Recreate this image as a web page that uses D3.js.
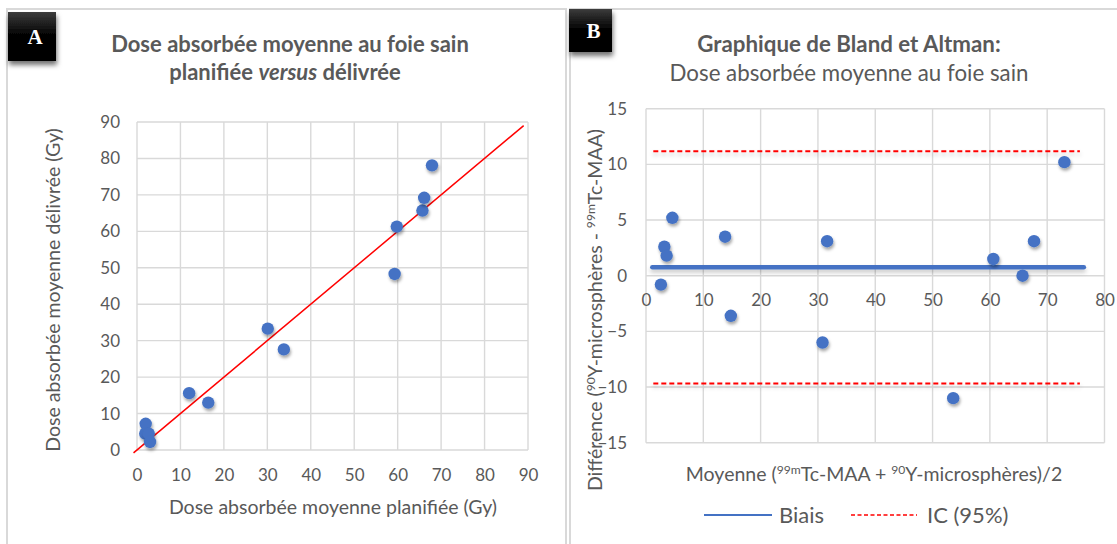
<!DOCTYPE html>
<html>
<head>
<meta charset="utf-8">
<script src="https://cdn.jsdelivr.net/npm/d3@7"></script>
<style>
  body { margin: 0; background: #fff; }
  text { font-family: Lato, "Open Sans", sans-serif; fill: #595959; }
</style>
</head>
<body>
<svg id="chart" width="1117" height="544"></svg>
<script>
// Panel A: planned vs delivered mean absorbed dose to healthy liver (Gy)
const planned   = [2.0, 1.9, 2.7, 3.0, 12.0, 16.4, 30.1, 33.8, 59.3, 59.8, 65.7, 66.1, 67.9];
const delivered = [7.2, 4.5, 4.5, 2.2, 15.6, 13.0, 33.3, 27.6, 48.3, 61.3, 65.7, 69.2, 78.1];
const identityEnds = [-0.8, 89];
const ticksA = [0, 10, 20, 30, 40, 50, 60, 70, 80, 90];

// Panel B: Bland-Altman (mean of both methods, difference 90Y - 99mTc)
const blandMean = [4.6, 3.2, 3.6, 2.6, 13.8, 14.8, 31.6, 30.8, 53.6, 60.6, 65.7, 67.7, 73.0];
const blandDiff = [5.2, 2.6, 1.8, -0.8, 3.5, -3.6, 3.1, -6.0, -11.0, 1.5, 0.0, 3.1, 10.2];
const bias = 0.75;
const icUpper = 11.17;
const icLower = -9.68;
const limitSpan = [1.1, 76.4];
const ticksBx = [0, 10, 20, 30, 40, 50, 60, 70, 80];
const ticksBy = [-15, -10, -5, 0, 5, 10, 15];

const BLUE = "#4472C4", RED = "#FF0000", GRID = "#d9d9d9";

const svg = d3.select("#chart");
svg.append("rect").attr("width", 1117).attr("height", 544).attr("fill", "#fff");

const defs = svg.append("defs");
const sh = defs.append("filter").attr("id", "shadow")
  .attr("x", "-50%").attr("y", "-50%").attr("width", "200%").attr("height", "200%");
sh.append("feDropShadow").attr("dx", 1).attr("dy", 2.5).attr("stdDeviation", 1.6)
  .attr("flood-color", "#000").attr("flood-opacity", 0.35);
// horizontal lines have a zero-height bbox, so this filter uses user space
const lsh = defs.append("filter").attr("id", "lineShadow")
  .attr("filterUnits", "userSpaceOnUse")
  .attr("x", 0).attr("y", 0).attr("width", 1117).attr("height", 544);
lsh.append("feDropShadow").attr("dx", 0).attr("dy", 3).attr("stdDeviation", 2)
  .attr("flood-color", "#000").attr("flood-opacity", 0.22);
const bsh = defs.append("filter").attr("id", "boxShadow")
  .attr("x", "-30%").attr("y", "-30%").attr("width", "170%").attr("height", "170%");
bsh.append("feDropShadow").attr("dx", 1).attr("dy", 4).attr("stdDeviation", 2.5)
  .attr("flood-color", "#000").attr("flood-opacity", 0.55);
const grad = defs.append("linearGradient").attr("id", "boxGrad")
  .attr("x1", 0).attr("y1", 0).attr("x2", 0).attr("y2", 1);
grad.append("stop").attr("offset", "0%").attr("stop-color", "#3c3c3c");
grad.append("stop").attr("offset", "45%").attr("stop-color", "#050505");
grad.append("stop").attr("offset", "100%").attr("stop-color", "#000");

// Panel frames
svg.append("rect").attr("x", 7).attr("y", 9).attr("width", 559).attr("height", 600)
  .attr("fill", "#fff").attr("stroke", GRID).attr("stroke-width", 2);
svg.append("rect").attr("x", 570).attr("y", 9).attr("width", 600).attr("height", 600)
  .attr("fill", "#fff").attr("stroke", GRID).attr("stroke-width", 2);

function panelLetter(x, y, w, h, letter) {
  svg.append("rect").attr("x", x).attr("y", y).attr("width", w).attr("height", h)
    .attr("fill", "url(#boxGrad)").attr("filter", "url(#boxShadow)");
  svg.append("text").attr("x", x + w / 2 + 3).attr("y", y + h / 2 + 7)
    .attr("text-anchor", "middle")
    .style("font-family", "'Liberation Serif', 'DejaVu Serif', serif")
    .style("font-weight", "bold").style("font-size", "21px").style("fill", "#fff")
    .text(letter);
}

function grid(xs, ys, xTicks, yTicks) {
  const g = svg.append("g").attr("stroke", GRID).attr("stroke-width", 1.4);
  const [y0, y1] = ys.range();
  const [x0, x1] = xs.range();
  g.selectAll("line.v").data(xTicks).join("line").attr("class", "v")
    .attr("x1", d => xs(d)).attr("x2", d => xs(d)).attr("y1", y0).attr("y2", y1);
  g.selectAll("line.h").data(yTicks).join("line").attr("class", "h")
    .attr("y1", d => ys(d)).attr("y2", d => ys(d)).attr("x1", x0).attr("x2", x1);
}

function styleAxis(g) {
  g.select(".domain").remove();
  g.selectAll("text").style("font-size", "17px").style("fill", "#595959")
    .style("font-family", "Lato, 'Open Sans', sans-serif");
}

// ---------- Panel A ----------
const xA = d3.scaleLinear().domain([0, 90]).range([137, 528]);
const yA = d3.scaleLinear().domain([0, 90]).range([450, 122]);

grid(xA, yA, ticksA, ticksA);

svg.append("g").attr("transform", "translate(0,450)")
  .call(d3.axisBottom(xA).tickValues(ticksA).tickSize(0).tickPadding(19))
  .call(styleAxis);
svg.append("g").attr("transform", "translate(137,0)")
  .call(d3.axisLeft(yA).tickValues(ticksA).tickSize(0).tickPadding(17))
  .call(styleAxis);

svg.append("line")
  .attr("x1", xA(identityEnds[0])).attr("y1", yA(identityEnds[0]))
  .attr("x2", xA(identityEnds[1])).attr("y2", yA(identityEnds[1]))
  .attr("stroke", RED).attr("stroke-width", 1.5);

svg.append("g").selectAll("circle").data(planned).join("circle")
  .attr("cx", d => xA(d)).attr("cy", (d, i) => yA(delivered[i]))
  .attr("r", 6.2).attr("fill", BLUE).attr("filter", "url(#shadow)");

svg.append("text").attr("x", 290).attr("y", 52).attr("text-anchor", "middle")
  .style("font-size", "22px").style("font-weight", "bold")
  .text("Dose absorbée moyenne au foie sain");
const tA2 = svg.append("text").attr("x", 285).attr("y", 80).attr("text-anchor", "middle")
  .style("font-size", "22px").style("font-weight", "bold");
tA2.append("tspan").text("planifiée ");
tA2.append("tspan").style("font-style", "italic").text("versus");
tA2.append("tspan").text(" délivrée");

svg.append("text").attr("x", 333).attr("y", 514).attr("text-anchor", "middle")
  .style("font-size", "19.5px").text("Dose absorbée moyenne planifiée (Gy)");
svg.append("text").attr("transform", "translate(60,290) rotate(-90)")
  .attr("text-anchor", "middle").style("font-size", "19.5px")
  .text("Dose absorbée moyenne délivrée (Gy)");

panelLetter(8, 12, 48, 49, "A");

// ---------- Panel B ----------
const xB = d3.scaleLinear().domain([0, 80]).range([646, 1104.5]);
const yB = d3.scaleLinear().domain([-15, 15]).range([442.7, 108.7]);

grid(xB, yB, ticksBx, ticksBy);

svg.append("g").attr("transform", `translate(0,${yB(0)})`)
  .call(d3.axisBottom(xB).tickValues(ticksBx).tickSize(0).tickPadding(18))
  .call(styleAxis);
svg.append("g").attr("transform", "translate(646,0)")
  .call(d3.axisLeft(yB).tickValues(ticksBy).tickSize(0).tickPadding(19))
  .call(styleAxis);

// Bias and 95% limits of agreement
svg.append("line")
  .attr("x1", xB(limitSpan[0])).attr("x2", xB(limitSpan[1]))
  .attr("y1", yB(bias)).attr("y2", yB(bias))
  .attr("stroke", BLUE).attr("stroke-width", 4.5).attr("stroke-linecap", "round")
  .attr("filter", "url(#lineShadow)");
svg.append("g").selectAll("line").data([icUpper, icLower]).join("line")
  .attr("x1", xB(limitSpan[0]) + 1).attr("x2", xB(limitSpan[1]) - 4)
  .attr("y1", d => yB(d)).attr("y2", d => yB(d))
  .attr("stroke", RED).attr("stroke-width", 2).attr("stroke-dasharray", "5,3")
  .attr("filter", "url(#lineShadow)");

svg.append("g").selectAll("circle").data(blandMean).join("circle")
  .attr("cx", d => xB(d)).attr("cy", (d, i) => yB(blandDiff[i]))
  .attr("r", 6.2).attr("fill", BLUE).attr("filter", "url(#shadow)");

svg.append("text").attr("x", 849).attr("y", 52).attr("text-anchor", "middle")
  .style("font-size", "22.3px").style("font-weight", "bold")
  .text("Graphique de Bland et Altman:");
svg.append("text").attr("x", 849).attr("y", 81).attr("text-anchor", "middle")
  .style("font-size", "22.3px")
  .text("Dose absorbée moyenne au foie sain");

function supText(sel, parts) {
  parts.forEach(p => {
    const t = sel.append("tspan").text(p.t);
    if (p.sup) t.attr("baseline-shift", "super").style("font-size", "0.62em");
  });
}

const xtB = svg.append("text").attr("x", 874).attr("y", 481).attr("text-anchor", "middle")
  .style("font-size", "19.5px");
supText(xtB, [
  { t: "Moyenne (" }, { t: "99m", sup: true }, { t: "Tc-MAA + " },
  { t: "90", sup: true }, { t: "Y-microsphères)/2" }
]);

const ytB = svg.append("text").attr("transform", "translate(602,310) rotate(-90)")
  .attr("text-anchor", "middle").style("font-size", "19.5px");
supText(ytB, [
  { t: "Différence (" }, { t: "90", sup: true }, { t: "Y-microsphères - " },
  { t: "99m", sup: true }, { t: "Tc-MAA)" }
]);

// Legend
const lg = svg.append("g");
lg.append("line").attr("x1", 704).attr("x2", 772).attr("y1", 515).attr("y2", 515)
  .attr("stroke", BLUE).attr("stroke-width", 2.2);
lg.append("text").attr("x", 779).attr("y", 523).style("font-size", "22px").text("Biais");
lg.append("line").attr("x1", 851).attr("x2", 917).attr("y1", 515).attr("y2", 515)
  .attr("stroke", RED).attr("stroke-width", 1.6).attr("stroke-dasharray", "4,2.5");
lg.append("text").attr("x", 927).attr("y", 523).style("font-size", "22px").text("IC (95%)");

panelLetter(569, 9, 43, 43, "B");
</script>
</body>
</html>
